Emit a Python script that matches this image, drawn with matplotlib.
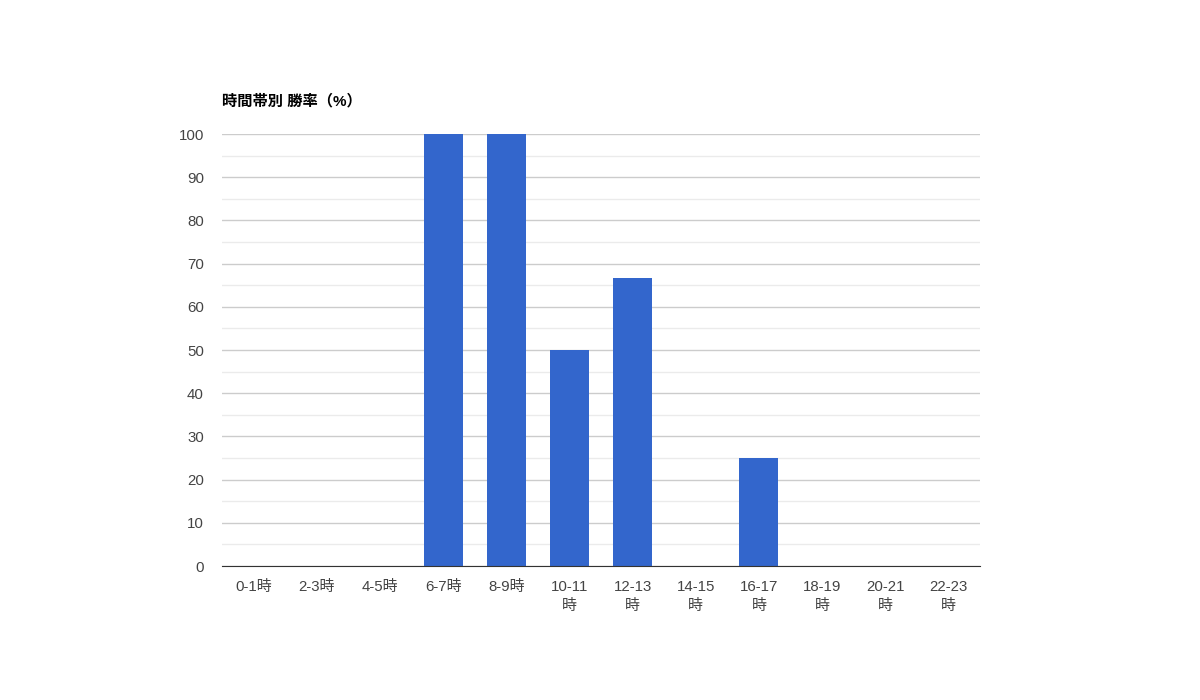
import numpy as np
import matplotlib
matplotlib.use("Agg")
from matplotlib import pyplot as plt

plt.rcParams['font.family'] = ['Liberation Sans', 'Noto Sans CJK JP', 'DejaVu Sans']

# data
hours = ['0-1時', '2-3時', '4-5時', '6-7時', '8-9時', '10-11\n時', '12-13\n時',
         '14-15\n時', '16-17\n時', '18-19\n時', '20-21\n時', '22-23\n時']
win_rate = [0, 0, 0, 100, 100, 50, 66.7, 0, 25, 0, 0, 0]

fig = plt.figure(figsize=(12, 7), dpi=100)
ax = fig.add_axes([222/1200, 1 - 566/700, (980-222)/1200, (566-134)/700])

x = np.arange(len(hours))
ax.bar(x, win_rate, width=0.62, color='#3366cc', zorder=3)

ax.set_xlim(-0.5, len(hours) - 0.5)
ax.set_ylim(0, 100)
ax.set_yticks(np.arange(0, 101, 10))
ax.set_yticks(np.arange(5, 100, 10), minor=True)
ax.grid(axis='y', which='major', color='#cccccc', linewidth=1, zorder=0)
ax.grid(axis='y', which='minor', color='#ebebeb', linewidth=1, zorder=0)

ax.set_xticks(x)
ax.set_xticklabels(hours, linespacing=1.5)
ax.tick_params(axis='both', which='both', length=0, labelsize=10.8, labelcolor='#444444')
ax.tick_params(axis='y', pad=13)
ax.tick_params(axis='x', pad=10)

for s in ['top', 'right', 'left']:
    ax.spines[s].set_visible(False)
ax.spines['bottom'].set_color('#333333')
ax.spines['bottom'].set_zorder(4)

fig.text(222/1200, 1 - 101/700, '時間帯別 勝率（%）', fontsize=11,
         fontweight='bold', va='center', ha='left', color='black')

fig.savefig('out.png', dpi=100, facecolor='white')
